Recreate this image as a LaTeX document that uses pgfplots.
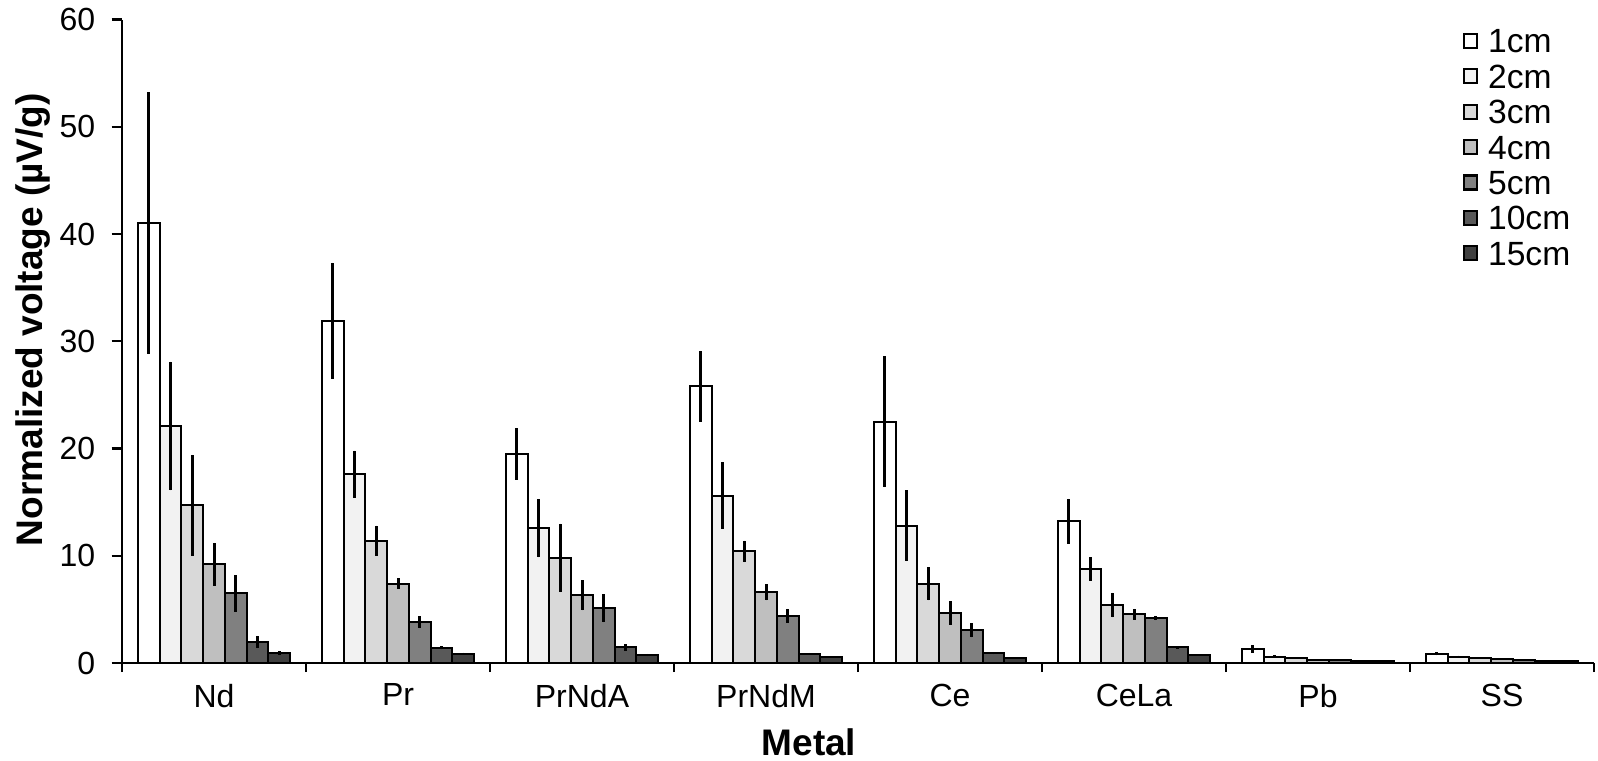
\documentclass[border=0pt]{standalone}
\usepackage{fontspec}
\setmainfont{Liberation Sans}
\usepackage{pgfplots}
\pgfplotsset{compat=1.18}
\usepackage{pgfplotstable}

\definecolor{cA}{HTML}{FFFFFF}
\definecolor{cB}{HTML}{F2F2F2}
\definecolor{cC}{HTML}{D9D9D9}
\definecolor{cD}{HTML}{BFBFBF}
\definecolor{cE}{HTML}{808080}
\definecolor{cF}{HTML}{595959}
\definecolor{cG}{HTML}{404040}

% columns: x = metal index, y = mean, e = error
\pgfplotstableread{
x y e
0 41.0 12.2
1 31.9 5.4
2 19.5 2.4
3 25.8 3.3
4 22.5 6.1
5 13.2 2.1
6 1.3 0.35
7 0.85 0.15
}\dA
\pgfplotstableread{
x y e
0 22.1 6.0
1 17.6 2.2
2 12.55 2.7
3 15.6 3.1
4 12.8 3.3
5 8.75 1.1
6 0.6 0.1
7 0.6 0.08
}\dB
\pgfplotstableread{
x y e
0 14.7 4.7
1 11.4 1.4
2 9.8 3.2
3 10.4 1.0
4 7.4 1.55
5 5.4 1.15
6 0.45 0.05
7 0.45 0.05
}\dC
\pgfplotstableread{
x y e
0 9.2 2.0
1 7.4 0.5
2 6.3 1.4
3 6.6 0.75
4 4.65 1.1
5 4.55 0.5
6 0.32 0.03
7 0.35 0.03
}\dD
\pgfplotstableread{
x y e
0 6.5 1.7
1 3.8 0.55
2 5.1 1.3
3 4.4 0.65
4 3.05 0.65
5 4.2 0.2
6 0.25 0.02
7 0.3 0.02
}\dE
\pgfplotstableread{
x y e
0 1.96 0.57
1 1.43 0.15
2 1.45 0.3
3 0.85 0.1
4 0.9 0.1
5 1.45 0.1
6 0.2 0.02
7 0.22 0.02
}\dF
\pgfplotstableread{
x y e
0 0.93 0.15
1 0.87 0.1
2 0.75 0.1
3 0.55 0.05
4 0.45 0.05
5 0.75 0.05
6 0.18 0.02
7 0.2 0.02
}\dG

\begin{document}
\begin{tikzpicture}
\useasboundingbox (-61bp,-49bp) rectangle (738bp,331.5bp);
\begin{axis}[
  at={(0,0)}, anchor=south west,
  scale only axis, width=736bp, height=321.75bp,
  xmin=-0.5, xmax=7.5, ymin=0, ymax=60,
  axis lines*=left,
  axis line style={black, line width=1.4bp},
  ybar=0pt, bar width=0.118,
  xtick={0,1,2,3,4,5,6,7},
  xticklabels={Nd,Pr,PrNdA,PrNdM,Ce,CeLa,Pb,SS},
  minor xtick={-0.5,0.5,1.5,2.5,3.5,4.5,5.5,6.5,7.5},
  every major x tick/.append style={draw=none},
  ytick={0,10,20,30,40,50,60},
  tick align=outside,
  major tick length=5.25bp,
  minor tick length=4.5bp,
  tick style={black, line width=1.2bp},
  /pgf/number format/assume math mode=true,
  tick label style={font=\fontsize{16bp}{19bp}\selectfont},
  yticklabel style={inner sep=0pt, anchor=east, xshift=-8bp},
  xticklabel style={inner sep=0pt, anchor=north, yshift=-5bp},
  xlabel={Metal},
  ylabel={Normalized voltage (µV/g)},
  label style={font=\fontsize{18.5bp}{21bp}\selectfont\bfseries},
  xlabel style={at={(axis description cs:0.4667,0)}, anchor=base, inner sep=0pt, yshift=-46bp},
  ylabel style={at={(axis description cs:-0.0540,0.5336)}, anchor=base, inner sep=0pt},
  every axis plot/.append style={draw=black, line width=1bp},
  error bars/y dir=both, error bars/y explicit,
  error bars/error mark=none,
  error bars/error bar style={black, line width=1.5bp},
  legend image code/.code={%
    \path[draw=none, fill=none] (0bp,0bp) rectangle (12.5bp,12bp);
    \draw[#1, line width=1.1bp] (0.5bp,2.5bp) rectangle (7bp,9.5bp);},
  legend style={at={(axis description cs:0.911,0.9855)}, anchor=north west,
    draw=none, fill=none, inner sep=0pt, outer sep=0pt, row sep=5.7bp,
    nodes={inner sep=0pt, text height=12bp, text depth=0pt, anchor=base west,
      font=\fontsize{16.8bp}{19bp}\selectfont}},
  legend cell align=left,
]
\addplot[fill=cA] table[x=x,y=y,y error=e]{\dA};
\addplot[fill=cB] table[x=x,y=y,y error=e]{\dB};
\addplot[fill=cC] table[x=x,y=y,y error=e]{\dC};
\addplot[fill=cD] table[x=x,y=y,y error=e]{\dD};
\addplot[fill=cE] table[x=x,y=y,y error=e]{\dE};
\addplot[fill=cF] table[x=x,y=y,y error=e]{\dF};
\addplot[fill=cG] table[x=x,y=y,y error=e]{\dG};
\legend{1cm,2cm,3cm,4cm,5cm,10cm,15cm}
\end{axis}
\end{tikzpicture}
\end{document}
